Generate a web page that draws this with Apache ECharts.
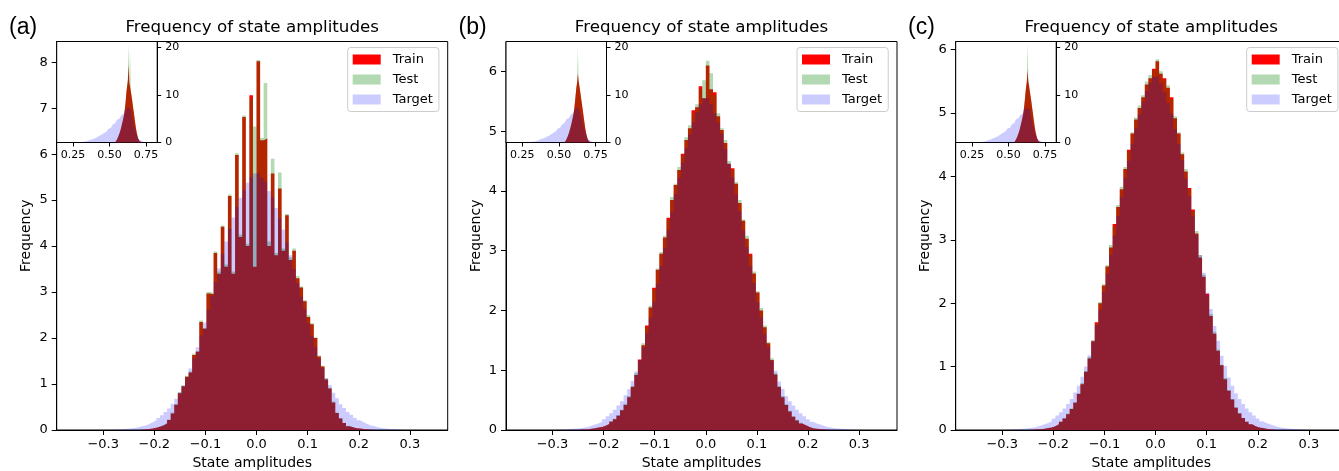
<!DOCTYPE html>
<html><head><meta charset="utf-8">
<script src="https://cdn.jsdelivr.net/npm/echarts@6/dist/echarts.min.js"></script>
<style>html,body{margin:0;padding:0;background:#fff}#c{width:1339px;height:471px}</style>
</head><body><div id="c"></div>
<script>
// ---------------- data ----------------
const SERIES_NAMES = ['Train', 'Test', 'Target'];
const PANEL_LABELS = ['(a)', '(b)', '(c)'];
const TITLE = 'Frequency of state amplitudes';
const X_NAME = 'State amplitudes';
const Y_NAME = 'Frequency';
const X_TICKS = [-0.3, -0.2, -0.1, 0.0, 0.1, 0.2, 0.3];
const Y_TICKS_A = [0, 1, 2, 3, 4, 5, 6, 7, 8];
const Y_TICKS_B = [0, 1, 2, 3, 4, 5, 6];
const Y_TICKS_C = [0, 1, 2, 3, 4, 5, 6];
const INSET_X_TICKS = [0.25, 0.50, 0.75];
const INSET_Y_TICKS = [0, 10, 20];

// main histograms: bins of width 0.007 starting at -0.294 (84 bins)
const MAIN_BIN_START = -0.294, MAIN_BIN_WIDTH = 0.007;
const trainA = [0,0,0,0,0,0,0,0,0,0.005,
  0.01,0.02,0.03,0.05,0.07,0.10,0.14,0.22,0.36,0.55,
  0.80,0.95,1.16,1.25,1.63,1.70,2.35,2.20,2.97,2.95,
  3.85,3.40,4.42,3.55,5.09,3.40,5.98,4.20,6.81,4.00,
  7.28,3.55,8.02,6.30,6.34,4.00,5.58,3.80,5.25,3.90,
  4.67,3.70,3.90,3.30,3.10,2.80,2.46,2.30,2.00,1.60,
  1.38,1.10,0.90,0.60,0.37,0.25,0.15,0.08,0.06,0.04,
  0.03,0.02,0.01,0.005,0,0,0,0,0,0,
  0,0,0,0];
const testA = [0,0,0,0,0,0,0,0,0,0.005,
  0.01,0.02,0.03,0.05,0.08,0.11,0.15,0.23,0.38,0.56,
  0.82,0.97,1.18,1.27,1.66,1.72,2.38,2.22,3.00,2.98,
  3.88,3.45,4.45,3.60,5.12,3.45,6.02,4.25,6.84,4.05,
  7.20,6.60,8.05,6.35,7.55,4.10,5.90,3.85,5.60,3.95,
  4.70,3.75,3.95,3.35,3.12,2.82,2.50,2.32,2.02,1.62,
  1.40,1.12,0.92,0.62,0.38,0.26,0.16,0.09,0.06,0.04,
  0.03,0.02,0.01,0.005,0,0,0,0,0,0,
  0,0,0,0];
const targetA = [0.005,0.008,0.01,0.015,0.02,0.025,0.035,0.045,0.06,0.08,
  0.10,0.13,0.17,0.21,0.26,0.32,0.39,0.47,0.57,0.68,
  0.82,0.97,1.14,1.34,1.56,1.80,2.06,2.34,2.62,2.92,
  3.22,3.52,3.82,4.10,4.38,4.62,4.85,5.05,5.22,5.38,
  5.50,5.58,5.60,5.49,5.40,5.20,5.06,4.83,4.60,4.36,
  4.08,3.80,3.50,3.20,2.90,2.63,2.32,2.05,1.80,1.55,
  1.35,1.13,0.98,0.81,0.69,0.56,0.48,0.39,0.33,0.26,
  0.21,0.17,0.13,0.10,0.08,0.06,0.045,0.035,0.025,0.02,
  0.015,0.01,0.008,0.005];
const trainB = [0,0,0,0,0,0,0.005,0.01,0.01,0.02,
  0.03,0.04,0.05,0.07,0.10,0.14,0.18,0.24,0.33,0.42,
  0.55,0.72,0.92,1.18,1.42,1.75,2.05,2.38,2.68,2.95,
  3.22,3.55,3.85,4.10,4.35,4.62,4.85,5.05,5.35,5.40,
  5.75,5.55,6.10,5.70,5.65,5.25,5.02,4.80,4.45,4.38,
  4.12,3.80,3.50,3.20,2.95,2.62,2.30,2.00,1.72,1.45,
  1.17,0.93,0.72,0.55,0.42,0.31,0.22,0.16,0.11,0.08,
  0.05,0.03,0.02,0.015,0.01,0.005,0,0,0,0,
  0,0,0,0];
const testB = [0,0,0,0,0,0,0.005,0.01,0.01,0.02,
  0.03,0.04,0.05,0.07,0.10,0.15,0.19,0.25,0.34,0.44,
  0.57,0.74,0.95,1.16,1.45,1.72,2.08,2.35,2.70,2.98,
  3.25,3.52,3.90,4.12,4.40,4.60,4.90,5.10,5.30,5.45,
  5.70,5.85,6.18,5.97,5.60,5.30,5.05,4.85,4.50,4.35,
  4.15,3.85,3.52,3.25,2.92,2.65,2.32,2.04,1.75,1.47,
  1.20,0.95,0.74,0.57,0.43,0.32,0.23,0.17,0.12,0.08,
  0.05,0.03,0.02,0.015,0.01,0.005,0,0,0,0,
  0,0,0,0];
const targetB = [0.005,0.008,0.01,0.015,0.02,0.025,0.03,0.04,0.05,0.07,
  0.09,0.11,0.14,0.18,0.23,0.28,0.34,0.41,0.48,0.58,
  0.68,0.82,0.98,1.17,1.38,1.62,1.88,2.15,2.45,2.75,
  3.05,3.35,3.65,3.95,4.22,4.48,4.72,4.95,5.15,5.32,
  5.45,5.55,5.56,5.46,5.30,5.14,4.96,4.70,4.47,4.23,
  3.94,3.66,3.34,3.06,2.74,2.46,2.14,1.89,1.61,1.39,
  1.16,0.99,0.81,0.69,0.57,0.48,0.41,0.34,0.28,0.23,
  0.18,0.14,0.11,0.09,0.07,0.05,0.04,0.03,0.025,0.02,
  0.015,0.01,0.008,0.005];
const trainC = [0,0,0,0,0,0,0,0.005,0.01,0.01,
  0.02,0.03,0.04,0.06,0.09,0.13,0.18,0.25,0.33,0.43,
  0.57,0.72,0.92,1.13,1.40,1.70,2.00,2.28,2.58,2.88,
  3.25,3.52,3.80,4.12,4.42,4.68,4.90,5.08,5.25,5.45,
  5.55,5.70,5.82,5.62,5.55,5.40,5.25,4.92,4.68,4.35,
  4.08,3.82,3.48,3.10,2.72,2.42,2.15,1.80,1.52,1.25,
  1.02,0.80,0.62,0.48,0.35,0.26,0.19,0.13,0.09,0.06,
  0.04,0.03,0.02,0.01,0.005,0,0,0,0,0,
  0,0,0,0];
const testC = [0,0,0,0,0,0,0,0.005,0.01,0.01,
  0.02,0.03,0.04,0.06,0.09,0.13,0.19,0.26,0.34,0.44,
  0.58,0.74,0.93,1.15,1.42,1.68,2.02,2.30,2.60,2.92,
  3.22,3.55,3.84,4.15,4.40,4.70,4.93,5.12,5.28,5.50,
  5.60,5.68,5.85,5.66,5.52,5.44,5.22,4.95,4.70,4.38,
  4.12,3.80,3.45,3.14,2.76,2.45,2.12,1.83,1.55,1.27,
  1.03,0.82,0.63,0.49,0.36,0.27,0.19,0.13,0.09,0.06,
  0.04,0.03,0.02,0.01,0.005,0,0,0,0,0,
  0,0,0,0];
const targetC = [0.005,0.008,0.01,0.015,0.02,0.025,0.03,0.04,0.05,0.07,
  0.09,0.11,0.14,0.18,0.23,0.28,0.34,0.41,0.49,0.59,
  0.70,0.84,1.00,1.18,1.40,1.65,1.90,2.18,2.47,2.77,
  3.07,3.38,3.68,3.98,4.25,4.52,4.76,4.98,5.18,5.35,
  5.48,5.57,5.58,5.47,5.33,5.16,4.99,4.75,4.51,4.26,
  3.97,3.69,3.37,3.08,2.76,2.48,2.17,1.91,1.64,1.41,
  1.17,1.01,0.83,0.70,0.58,0.49,0.41,0.34,0.28,0.23,
  0.18,0.14,0.11,0.09,0.07,0.05,0.04,0.03,0.025,0.02,
  0.015,0.01,0.008,0.005];

// inset histograms
const INSET_TARGET_START = 0.28, INSET_TARGET_WIDTH = 0.01;   // 46 bins
const INSET_MODEL_START = 0.54, INSET_MODEL_WIDTH = 0.005;    // 36 bins
const insetTargetA = [0.05,0.08,0.10,0.15,0.20,0.25,0.35,0.45,0.55,0.65,
  0.80,0.90,1.05,1.20,1.35,1.55,1.70,1.95,2.15,2.30,
  2.60,2.85,3.10,3.40,3.70,4.10,4.40,4.80,5.10,5.40,
  5.70,6.10,6.50,7.00,7.30,7.50,7.00,6.00,4.60,3.30,
  2.20,1.30,0.70,0.35,0.15,0.05];
const insetTrainA = [0.10,0.30,0.60,0.90,1.30,1.70,2.10,2.60,3.20,3.90,
  4.50,5.20,6.00,7.20,8.60,10.5,11.8,12.9,16.3,12.6,
  11.8,10.8,9.8,8.8,7.6,6.5,5.4,4.2,3.1,2.2,
  1.5,0.9,0.5,0.25,0.10,0.05];
const insetTestA = [0.10,0.28,0.62,0.95,1.25,1.75,2.05,2.65,3.15,3.95,
  4.45,5.25,6.05,7.10,8.70,10.3,12.0,13.2,20.8,13.0,
  19.5,11.0,9.9,8.7,7.7,6.4,5.5,4.1,3.2,2.1,
  1.6,0.9,0.5,0.25,0.10,0.05];
const insetTargetB = [0.05,0.08,0.12,0.16,0.22,0.28,0.38,0.48,0.60,0.72,
  0.85,0.95,1.10,1.25,1.42,1.60,1.78,2.00,2.20,2.38,
  2.65,2.90,3.15,3.45,3.75,4.15,4.45,4.85,5.15,5.45,
  5.80,6.20,6.60,7.05,7.35,7.45,6.90,5.90,4.50,3.20,
  2.10,1.25,0.65,0.32,0.14,0.05];
const insetTrainB = [0.10,0.30,0.55,0.85,1.25,1.65,2.10,2.60,3.20,3.85,
  4.50,5.20,6.00,7.10,8.40,10.0,11.6,12.6,14.5,12.9,
  11.9,10.9,9.8,8.7,7.6,6.5,5.3,4.2,3.1,2.2,
  1.5,0.9,0.5,0.25,0.10,0.05];
const insetTestB = [0.10,0.30,0.60,0.90,1.20,1.70,2.15,2.55,3.25,3.90,
  4.40,5.30,6.10,7.00,8.50,10.2,11.5,12.8,20.0,13.1,
  12.2,10.7,9.9,8.6,7.7,6.4,5.4,4.1,3.2,2.1,
  1.6,0.9,0.5,0.25,0.10,0.05];
const insetTargetC = [0.05,0.08,0.11,0.15,0.21,0.27,0.36,0.46,0.57,0.68,
  0.82,0.93,1.08,1.22,1.38,1.58,1.75,1.98,2.18,2.34,
  2.62,2.88,3.12,3.42,3.72,4.12,4.42,4.82,5.12,5.42,
  5.75,6.15,6.55,7.02,7.32,7.48,6.95,5.95,4.55,3.25,
  2.15,1.28,0.68,0.34,0.15,0.05];
const insetTrainC = [0.10,0.30,0.58,0.88,1.28,1.68,2.10,2.60,3.20,3.88,
  4.50,5.20,6.00,7.15,8.50,10.2,11.7,12.8,15.2,12.8,
  11.9,10.8,9.8,8.8,7.6,6.5,5.3,4.2,3.1,2.2,
  1.5,0.9,0.5,0.25,0.10,0.05];
const insetTestC = [0.10,0.29,0.61,0.92,1.22,1.72,2.12,2.58,3.22,3.92,
  4.42,5.28,6.08,7.05,8.60,10.3,11.6,13.0,21.0,13.2,
  12.4,10.8,9.9,8.7,7.7,6.4,5.4,4.1,3.2,2.1,
  1.6,0.9,0.5,0.25,0.10,0.05];

// ---------------- layout & style ----------------
const F = 'DejaVu Sans';
const COLORS = {Train: '#ff0000', Test: 'rgba(0,128,0,0.3)', Target: 'rgba(0,0,255,0.2)'};
const LEFTS = [56.7, 506, 955.7];
const TOP = 41.5, W = 391, H = 388.5;
const INSET_W = 100.5, INSET_H = 101;
const YMAX = [8.45, 6.5, 6.13];
const XMIN = -0.391, XMAX = 0.374;
const IXMIN = 0.138, IXMAX = 0.826, IYMAX = 21.2;

const panels = [
  {main: [trainA, testA, targetA], inset: [insetTrainA, insetTestA, insetTargetA], yticks: Y_TICKS_A},
  {main: [trainB, testB, targetB], inset: [insetTrainB, insetTestB, insetTargetB], yticks: Y_TICKS_B},
  {main: [trainC, testC, targetC], inset: [insetTrainC, insetTestC, insetTargetC], yticks: Y_TICKS_C}
];

function stepPoints(start, width, vals) {
  const pts = vals.map((v, i) => [start + i * width, v]);
  pts.push([start + vals.length * width, vals[vals.length - 1]]);
  return pts;
}
function fmtMinus(v, d) {
  const s = Math.abs(v).toFixed(d);
  return (v < -1e-9 ? '\u2212' : '') + s;
}

const grid = [], xAxis = [], yAxis = [], series = [], legend = [], graphic = [];
const tickStyle = {color: '#000', width: 1};

panels.forEach((p, pi) => {
  const L = LEFTS[pi];
  const gMain = grid.length;
  grid.push({left: L, top: TOP, width: W, height: H, show: true, borderColor: '#000', borderWidth: 1,
    backgroundColor: 'transparent', containLabel: false, outerBoundsMode: 'none'});
  xAxis.push({type: 'value', gridIndex: gMain, min: XMIN, max: XMAX,
    name: X_NAME, nameLocation: 'middle', nameGap: 26,
    nameTextStyle: {fontFamily: F, fontSize: 14, color: '#000'},
    axisLine: {show: true, onZero: false, lineStyle: tickStyle},
    axisTick: {show: true, length: 5, customValues: X_TICKS, lineStyle: tickStyle},
    axisLabel: {customValues: X_TICKS, formatter: v => fmtMinus(v, 1), fontFamily: F, fontSize: 13, color: '#000', margin: 8},
    splitLine: {show: false}});
  yAxis.push({type: 'value', gridIndex: gMain, min: 0, max: YMAX[pi],
    name: Y_NAME, nameLocation: 'middle', nameGap: 23, nameRotate: 90,
    nameTextStyle: {fontFamily: F, fontSize: 14, color: '#000'},
    axisLine: {show: true, onZero: false, lineStyle: tickStyle},
    axisTick: {show: true, length: 5, customValues: p.yticks, lineStyle: tickStyle},
    axisLabel: {customValues: p.yticks, formatter: v => String(Math.round(v)), fontFamily: F, fontSize: 13, color: '#000', margin: 9},
    splitLine: {show: false}});

  p.main.forEach((vals, si) => {
    const name = SERIES_NAMES[si];
    series.push({type: 'line', name, xAxisIndex: gMain, yAxisIndex: gMain,
      data: stepPoints(MAIN_BIN_START, MAIN_BIN_WIDTH, vals), step: 'end',
      showSymbol: false, symbol: 'none', silent: true, animation: false,
      lineStyle: {width: 0, opacity: 0}, itemStyle: {color: COLORS[name]},
      areaStyle: {color: COLORS[name], opacity: 1, origin: 0},
      emphasis: {disabled: true}, z: 2 + si});
  });

  // inset
  const gIn = grid.length;
  grid.push({left: L, top: TOP, width: INSET_W, height: INSET_H, show: true, borderColor: '#000', borderWidth: 1,
    backgroundColor: '#fff', containLabel: false, outerBoundsMode: 'none', z: 5});
  xAxis.push({type: 'value', gridIndex: gIn, min: IXMIN, max: IXMAX, z: 5,
    axisLine: {show: true, onZero: false, lineStyle: tickStyle},
    axisTick: {show: true, length: 4, customValues: INSET_X_TICKS, lineStyle: tickStyle},
    axisLabel: {customValues: INSET_X_TICKS, formatter: v => v.toFixed(2), fontFamily: F, fontSize: 11, color: '#000', margin: 7},
    splitLine: {show: false}});
  yAxis.push({type: 'value', gridIndex: gIn, min: 0, max: IYMAX, position: 'right', z: 5,
    axisLine: {show: true, onZero: false, lineStyle: tickStyle},
    axisTick: {show: true, length: 4, customValues: INSET_Y_TICKS, lineStyle: tickStyle},
    axisLabel: {customValues: INSET_Y_TICKS, formatter: v => String(Math.round(v)), fontFamily: F, fontSize: 11, color: '#000', margin: 8},
    splitLine: {show: false}});
  const starts = [INSET_MODEL_START, INSET_MODEL_START, INSET_TARGET_START];
  const widths = [INSET_MODEL_WIDTH, INSET_MODEL_WIDTH, INSET_TARGET_WIDTH];
  p.inset.forEach((vals, si) => {
    const name = SERIES_NAMES[si];
    series.push({type: 'line', name, xAxisIndex: gIn, yAxisIndex: gIn,
      data: stepPoints(starts[si], widths[si], vals), step: 'end',
      showSymbol: false, symbol: 'none', silent: true, animation: false,
      lineStyle: {width: 0, opacity: 0}, itemStyle: {color: COLORS[name]},
      areaStyle: {color: COLORS[name], opacity: 1, origin: 0},
      emphasis: {disabled: true}, z: 6 + si});
  });

  legend.push({left: L + 291, top: 47.5, orient: 'vertical', icon: 'rect',
    itemWidth: 28, itemHeight: 10, itemGap: 6, padding: [5, 6, 5, 5],
    backgroundColor: 'rgba(255,255,255,0.8)', borderColor: '#cccccc', borderWidth: 1, borderRadius: 3,
    selectedMode: false,
    textStyle: {fontFamily: F, fontSize: 13, color: '#000', lineHeight: 14, padding: [0, 0, 0, 7]},
    itemStyle: {borderWidth: 0},
    data: SERIES_NAMES.map(n => ({name: n, itemStyle: {color: COLORS[n], borderWidth: 0}}))});

  graphic.push({type: 'text', x: L + W / 2, y: 27.5, silent: true, z: 10,
    style: {text: TITLE, fontFamily: F, fontSize: 16.7, fill: '#000', textAlign: 'center', textVerticalAlign: 'middle'}});
  graphic.push({type: 'text', x: 9 + pi * 449.5, y: 28, silent: true, z: 10,
    style: {text: PANEL_LABELS[pi], fontFamily: 'Liberation Sans', fontSize: 23, fill: '#000', textAlign: 'left', textVerticalAlign: 'middle'}});
});

const chart = echarts.init(document.getElementById('c'), null, {renderer: 'canvas'});
chart.setOption({animation: false, backgroundColor: '#fff', grid, xAxis, yAxis, series, legend, graphic});
</script></body></html>
